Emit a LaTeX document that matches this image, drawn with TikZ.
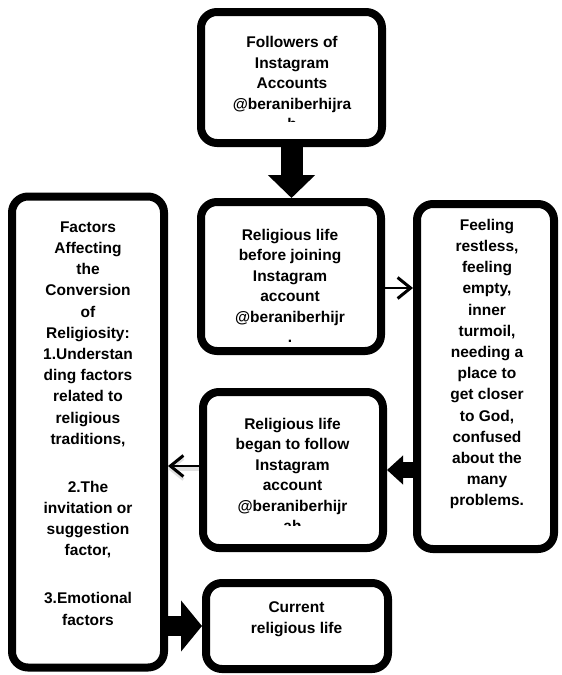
\documentclass[tikz,border=0pt]{standalone}
\usepackage{fontspec}
\setmainfont{Liberation Sans}
\usetikzlibrary{arrows.meta}
\begin{document}
\begin{tikzpicture}[x=1pt,y=-1pt,
  box/.style={draw, line width=8pt, rounded corners=16pt, inner sep=0pt, fill=white},
  txt/.style={align=center, inner sep=0pt, font=\fontsize{15.5}{20.5}\selectfont\bfseries},
  txtw/.style={align=center, inner sep=0pt, font=\fontsize{15.5}{21.2}\selectfont\bfseries},
  fatarrow/.style n args={3}{line width=#1, -{Triangle[length=#2,width=#3]}},
  thinarrow/.style={line width=2pt, -{Straight Barb[length=13pt,width=21pt,line width=3pt]}}
]
\useasboundingbox (0,0) rectangle (562,675);

% boxes
\node[box, minimum width=181pt, minimum height=131pt] (b1) at (291.5,77.5) {};
\node[box, minimum width=180pt, minimum height=149pt] (b2) at (291,276.5) {};
\node[box, minimum width=137pt, minimum height=345pt] (b3) at (485.5,376.5) {};
\node[box, minimum width=180pt, minimum height=156pt] (b4) at (293,470) {};
\node[box, minimum width=152pt, minimum height=471pt] (b5) at (88,432) {};
\node[box, minimum width=182pt, minimum height=86pt] (b6) at (297,626) {};

% texts
\begin{scope}
  \clip (201,12) rectangle (382,121);
  \node[txt] (t1) at (292,83) {Followers of\\Instagram\\Accounts\\@beraniberhijra\\h};
\end{scope}
\node[txt] (t2) at (290,286) {Religious life\\before joining\\Instagram\\account\\@beraniberhijr\\.};
\node[txtw] (t3) at (487,364) {Feeling\\restless,\\feeling\\empty,\\inner\\turmoil,\\needing a\\place to\\get closer\\to God,\\confused\\about the\\many\\problems.};
\begin{scope}
  \clip (202,392) rectangle (383,525);
  \node[txt] (t4) at (292.5,475) {Religious life\\began to follow\\Instagram\\account\\@beraniberhijr\\ah};
\end{scope}
\node[txtw] (t5) at (88,423.5) {Factors\\Affecting\\the\\Conversion\\of\\Religiosity:\\1.Understan\\ding factors\\related to\\religious\\traditions,\\[26.8pt]2.The\\invitation or\\suggestion\\factor,\\[26.8pt]3.Emotional\\factors};
\node[txtw] (t6) at (296.5,619.5) {Current\\religious life};

% connectors
\draw[fatarrow={22pt}{23pt}{46pt}] (b1.south) -- (b1.south |- b2.north);
\draw[thinarrow] (b2.east |- 0,288) -- (b3.west |- 0,288);
\draw[fatarrow={16pt}{16pt}{28pt}] (b3.west |- b4.east) -- (b4.east);
\draw[thinarrow, preaction={draw=black!12, line width=4pt, transform canvas={yshift=-3pt}}] (b4.west |- 0,466) -- (b5.east |- 0,466);
\draw[fatarrow={20pt}{21pt}{50pt}] (b5.east |- b6.west) -- (b6.west);
\end{tikzpicture}
\end{document}
